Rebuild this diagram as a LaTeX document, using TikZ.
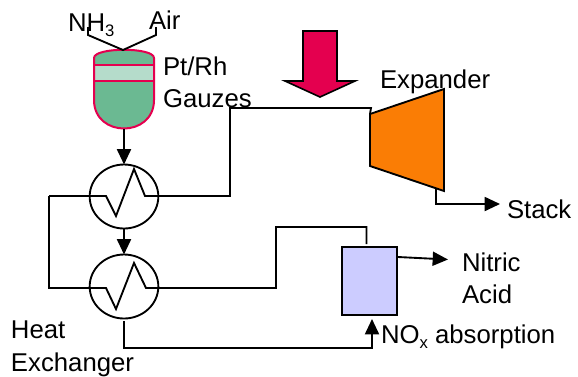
\documentclass[tikz,border=0pt]{standalone}
\usepackage{fontspec}
\setmainfont{Liberation Sans}
\usetikzlibrary{shapes.geometric,arrows.meta}
\definecolor{vesselgreen}{HTML}{6BB992}
\definecolor{bandgreen}{HTML}{B5DCCB}
\definecolor{crimson}{HTML}{E4004F}
\definecolor{expfill}{HTML}{FA7D05}
\definecolor{absfill}{HTML}{CCCCFF}
\newcommand{\lowidx}[1]{\raisebox{-4pt}{\fontsize{12.5}{12.5}\selectfont #1}}
\tikzset{
  lbl/.style={anchor=base west,inner sep=0pt,outer sep=0pt,font=\fontsize{19.3}{19.3}\selectfont},
  pipe/.style={line width=1.4pt,line join=miter},
  flow/.style={pipe,-{Triangle[length=11.5pt,width=10.5pt]}},
  hx/.style={draw,ellipse,line width=1.4pt,minimum width=51.5pt,minimum height=48pt,inner sep=0pt,outer sep=0pt},
}
\begin{document}
\begin{tikzpicture}[x=0.75pt,y=-0.75pt]
\useasboundingbox (0,0) rectangle (578,376);
% vessel
\path[fill=vesselgreen] (94,58) .. controls (94,47) and (154,47) .. (154,58) -- (154,100) .. controls (154,138) and (94,138) .. (94,100) -- cycle;
\fill[bandgreen] (94,65) rectangle (154,81);
\draw[crimson,line width=1.5pt] (94,58) .. controls (94,47) and (154,47) .. (154,58) -- (154,100) .. controls (154,138) and (94,138) .. (94,100) -- cycle;
\draw[crimson,line width=1.5pt] (94,65) -- (154,65) (94,81) -- (154,81);
\coordinate (vtop) at (123,50);
\coordinate (vbot) at (124,129);
% exchangers
\node[hx] (hxa) at (124,196.5) {};
\node[hx] (hxb) at (124,286.5) {};
% expander
\draw[line width=1.4pt,fill=expfill,line join=miter] (370,114) coordinate (ein) -- (444,89) -- (444,191) -- (370,166) -- cycle;
\coordinate (eout) at (436,188);
% absorber
\node[draw,line width=1.4pt,fill=absfill,minimum width=41pt,minimum height=51pt,inner sep=0pt,outer sep=0pt] (abs) at (369.5,281) {};
% big arrow
\node[coordinate] (bigarrow) at (320,97) {};
\draw[line width=1.2pt,fill=crimson,line join=miter] (bigarrow) -- (355,81) -- (337,81) -- (337,31) -- (303,31) -- (303,81) -- (285,81) -- cycle;
% feed lines
\coordinate (nh) at (88,27);
\coordinate (air) at (156,27);
\draw[pipe] (nh) -- (88,35) -- (vtop) -- (156,35) -- (air);
% vertical flows
\draw[flow] (vbot) -- (hxa.north);
\draw[flow] (hxa.south) -- (hxb.north);
% exchanger 1 loop
\coordinate (ljoin) at (49,196);
\draw[pipe] (ljoin) -- (106,196) -- (116,216) -- (134,169) -- (145,196) -- (230,196) -- (230,108) -- (371,108) -- (ein);
% exchanger 2 loop
\draw[pipe] (ljoin) -- (49,288) -- (106,288) -- (116,309) -- (134,263) -- (146,288) -- (276,288) -- (276,227) -- (366.5,227) -- (366.5,244);
% bottom line to absorber
\coordinate (hxbout) at (124,321);
\coordinate (noxin) at (372,319);
\draw[flow] (hxbout) -- (124,348) -- (372,348) -- (noxin);
% outflows
\coordinate (nitric) at (448,259.5);
\coordinate (stack) at (500,204);
\draw[flow] (398,257) -- (nitric);
\draw[flow] (eout) -- (436,204) -- (stack);
% labels
\node[lbl] (tnh) at (68,31) {NH\lowidx{3}};
\node[lbl] (tair) at (149,29) {Air};
\node[lbl] (tpt) at (163,75) {Pt/Rh};
\node[lbl] (tgz) at (163,107) {Gauzes};
\node[lbl] (tex) at (380,88) {Expander};
\node[lbl] (tst) at (507,218) {Stack};
\node[lbl] (tni) at (462,271) {Nitric};
\node[lbl] (tac) at (462,303) {Acid};
\node[lbl] (tno) at (381,343) {NO\lowidx{x} absorption};
\node[lbl] (the) at (11,338) {Heat};
\node[lbl] (tec) at (11,371) {Exchanger};
\end{tikzpicture}
\end{document}
